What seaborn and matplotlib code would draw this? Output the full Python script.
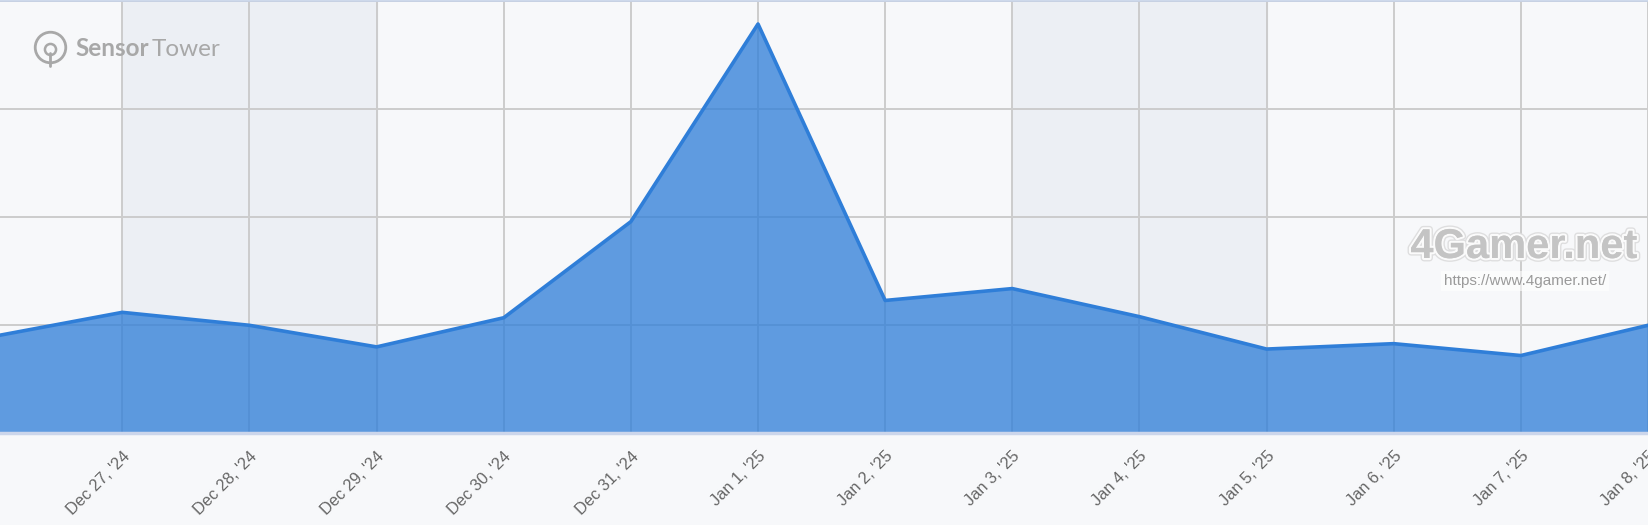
import numpy as np
import pandas as pd
import matplotlib
matplotlib.use("Agg")
import matplotlib.pyplot as plt
import matplotlib.patheffects as pe
import seaborn as sns

sns.set_style("white")
plt.rcParams['font.family'] = ['Liberation Sans', 'DejaVu Sans']

# Data (y in grid units)
dates = ['2024-12-26', '2024-12-27', '2024-12-28', '2024-12-29', '2024-12-30',
         '2024-12-31', '2025-01-01', '2025-01-02', '2025-01-03', '2025-01-04',
         '2025-01-05', '2025-01-06', '2025-01-07', '2025-01-08']
values = [0.90, 1.12, 1.00, 0.80, 1.07, 1.96, 3.79, 1.23, 1.34, 1.08, 0.78, 0.83, 0.72, 1.00]
tick_dates = dates[1:]
tick_labels = ["Dec 27, '24", "Dec 28, '24", "Dec 29, '24", "Dec 30, '24", "Dec 31, '24",
               "Jan 1, '25", "Jan 2, '25", "Jan 3, '25", "Jan 4, '25", "Jan 5, '25",
               "Jan 6, '25", "Jan 7, '25", "Jan 8, '25"]
band_starts = ['2024-12-27', '2025-01-03']
band_ends = ['2024-12-29', '2025-01-05']

df = pd.DataFrame({'date': pd.to_datetime(dates), 'value': values})

bg = '#f7f8fa'
W, H = 1648, 525
fig = plt.figure(figsize=(16.48, 5.25), dpi=100, facecolor=bg)
ax = fig.add_axes([0, 91.7 / H, 1, 432 / H])
ax.set_facecolor(bg)

# weekend bands
for s, e in zip(band_starts, band_ends):
    ax.axvspan(pd.Timestamp(s), pd.Timestamp(e), color='#eceff4', zorder=0)

# grid
ax.set_yticks([1, 2, 3, 4])
ax.set_xticks(pd.to_datetime(tick_dates))
ax.grid(True, color='#cccccc', lw=1.4, zorder=1)
ax.set_axisbelow(True)

ax.fill_between(df['date'], df['value'], 0, color='#2f7ed8', alpha=0.76, lw=0, zorder=2)
sns.lineplot(data=df, x='date', y='value', color='#2f7ed8', lw=2.6, ax=ax, zorder=3)

start = pd.Timestamp('2024-12-27')
ax.set_xlim(start - pd.Timedelta(days=0.962), pd.Timestamp('2025-01-08'))
ax.set_ylim(0, 4)

ax.set_xticklabels(tick_labels, rotation=45, ha='right', rotation_mode='anchor',
                   fontsize=11.8, color='#666666')
ax.tick_params(axis='x', length=0, pad=11)
ax.tick_params(axis='y', length=0, labelleft=False)
ax.set_xlabel('')
ax.set_ylabel('')

for side in ['left', 'right']:
    ax.spines[side].set_visible(False)
ax.spines['bottom'].set_color('#ccd6eb')
ax.spines['bottom'].set_linewidth(2.5)
ax.spines['top'].set_color('#c6d3e8')
ax.spines['top'].set_linewidth(1.2)

# Sensor Tower watermark
logo = '#a8a8a8'
fig.lines.append(plt.Line2D([50 / W], [1 - 47 / H], transform=fig.transFigure, marker='o',
                            ms=22, mfc='none', mec=logo, mew=2.0))
fig.lines.append(plt.Line2D([50 / W], [1 - 49 / H], transform=fig.transFigure, marker='o',
                            ms=8, mfc='none', mec=logo, mew=1.8))
fig.lines.append(plt.Line2D([50 / W, 50 / W], [1 - 53 / H, 1 - 66 / H], transform=fig.transFigure,
                            color=logo, lw=2.0))
fig.text(75 / W, 1 - 49 / H, 'Sensor', fontsize=17.5, fontweight='bold', color=logo,
         family=['Lato', 'DejaVu Sans'], va='center', ha='left')
fig.text(152 / W, 1 - 49 / H, 'Tower', fontsize=17.5, color=logo,
         family=['Lato', 'DejaVu Sans'], va='center', ha='left')

# 4Gamer watermark
fig.text(1524 / W, 1 - 247 / H, '4Gamer.net', fontsize=30, fontweight='bold', color='#c4c4c4',
         family=['Liberation Sans', 'DejaVu Sans'], ha='center', va='center', alpha=0.9,
         path_effects=[pe.withStroke(linewidth=5, foreground='#dcdcdc'),
                       pe.withStroke(linewidth=3, foreground='white'), pe.Normal()])
fig.text(1525 / W, 1 - 281 / H, 'https://www.4gamer.net/', fontsize=11, color='#9a9a9a',
         ha='center', va='center',
         bbox=dict(boxstyle='square,pad=0.2', fc='white', ec='none', alpha=0.6))

fig.savefig('out.png', dpi=100, facecolor=bg)
